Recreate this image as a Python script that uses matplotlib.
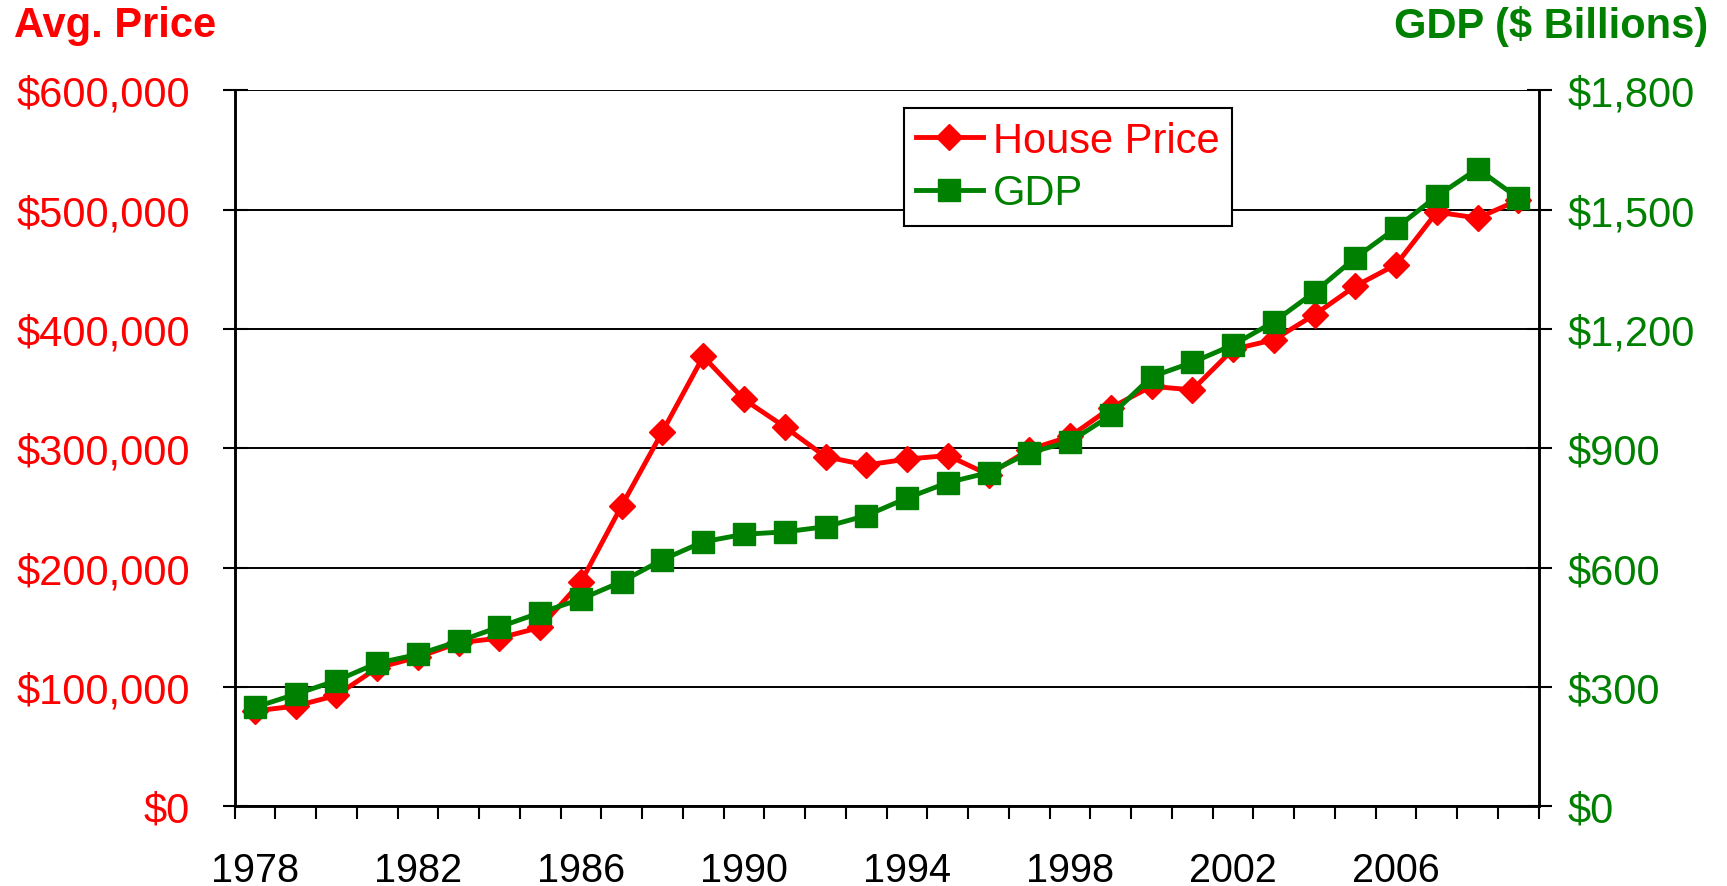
# plot.py
# Purpose: Avg. house price vs GDP, 1978-2009 (twin y axes)
# Run:     python plot.py

import numpy as np
import matplotlib.pyplot as plt
from matplotlib.ticker import FuncFormatter, MultipleLocator, FixedLocator

# ── Data ────────────────────────────────────────────────
years = list(range(1978, 2010))

house_price = [80000, 84000, 93000, 116000, 125000, 137000, 141000, 150000,
               188000, 252000, 314000, 377000, 341000, 318000, 293000, 286000,
               291000, 294000, 278000, 299000, 310000, 334000, 352000, 349000,
               383000, 391000, 412000, 436000, 454000, 498000, 493000, 508000]

gdp = [249, 282, 316, 360, 382, 415, 451, 487,
       521, 565, 620, 665, 684, 690, 703, 731,
       775, 814, 839, 889, 917, 983, 1080, 1116,
       1160, 1218, 1293, 1379, 1454, 1534, 1603, 1529]

label_years = [1978, 1982, 1986, 1990, 1994, 1998, 2002, 2006]

# ── Style ───────────────────────────────────────────────
RED   = "#FF0000"
GREEN = "#008000"
plt.rcParams['font.family'] = ['Liberation Sans', 'DejaVu Sans']

fig = plt.figure(figsize=(17.27, 8.87), dpi=100)
ax = fig.add_axes([0.1358, 0.0898, 0.7552, 0.8072])
ax2 = ax.twinx()

x = np.arange(len(years))

# ── Lines ───────────────────────────────────────────────
l1, = ax.plot(x, house_price, color=RED, lw=3.5, marker='D', ms=13,
              label='House Price')
l2, = ax2.plot(x, gdp, color=GREEN, lw=3.5, marker='s', ms=16.5,
               label='GDP')

# ── Axes ────────────────────────────────────────────────
ax.set_xlim(-0.5, len(years) - 0.5)
ax.set_ylim(0, 600000)
ax2.set_ylim(0, 1800)

ax.yaxis.set_major_locator(MultipleLocator(100000))
ax2.yaxis.set_major_locator(MultipleLocator(300))
ax.yaxis.set_major_formatter(FuncFormatter(lambda v, p: f"${v:,.0f}"))
ax2.yaxis.set_major_formatter(FuncFormatter(lambda v, p: f"${v:,.0f}"))

ax.grid(True, axis='y', color='black', lw=1.4)
ax.set_axisbelow(True)

# year labels at centers, tick marks at boundaries
ax.xaxis.set_major_locator(FixedLocator([years.index(y) for y in label_years]))
ax.set_xticklabels([str(y) for y in label_years])
ax.xaxis.set_minor_locator(FixedLocator(np.arange(-0.5, len(years), 1.0)))
ax.tick_params(axis='x', which='major', length=0, labelsize=28.5, pad=32)
ax.tick_params(axis='x', which='minor', length=9, width=1.5, direction='out')

ax.tick_params(axis='y', direction='inout', length=18, width=1.5,
               labelsize=30, labelcolor=RED, pad=23)
ax2.tick_params(axis='y', direction='inout', length=18, width=1.5,
                labelsize=30, labelcolor=GREEN, pad=12)

for a in (ax, ax2):
    a.spines['top'].set_visible(False)
    for s in ('left', 'right', 'bottom'):
        a.spines[s].set_linewidth(1.8)

# ── Legend ──────────────────────────────────────────────
leg = ax2.legend(handles=[l1, l2], loc='upper left',
                 bbox_to_anchor=(0.513, 0.975), borderaxespad=0,
                 fontsize=30, frameon=True, fancybox=False, shadow=False,
                 handlelength=1.6, handletextpad=0.25, borderpad=0.3,
                 labelspacing=0.3, framealpha=1)
leg.get_frame().set_edgecolor('black')
leg.get_frame().set_linewidth(1.5)
for txt, c in zip(leg.get_texts(), (RED, GREEN)):
    txt.set_color(c)

# ── Axis titles ─────────────────────────────────────────
fig.text(14 / 1727, 1 - 6 / 887, "Avg. Price", color=RED, fontsize=30,
         fontweight='bold', ha='left', va='top')
fig.text(1708 / 1727, 1 - 6 / 887, "GDP ($ Billions)", color=GREEN,
         fontsize=30, fontweight='bold', ha='right', va='top')

fig.savefig("out.png", dpi=100)
